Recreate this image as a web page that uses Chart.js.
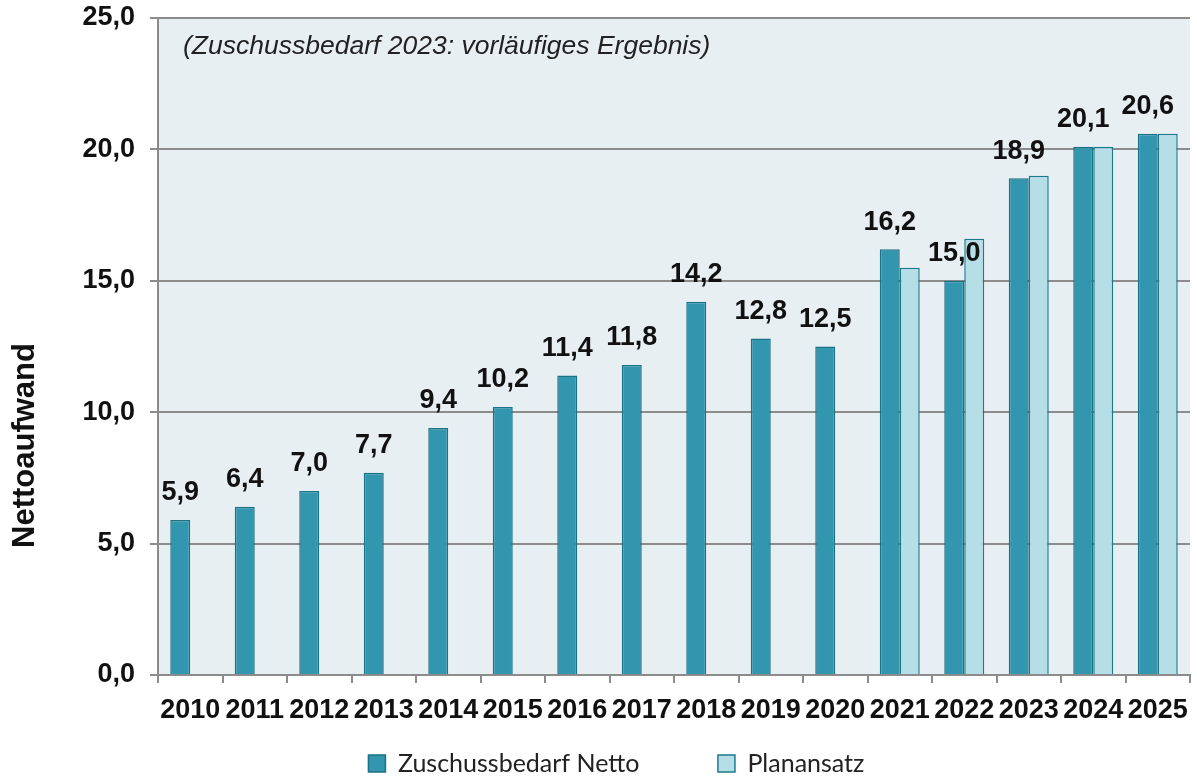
<!DOCTYPE html>
<html>
<head>
<meta charset="utf-8">
<script src="https://cdn.jsdelivr.net/npm/chart.js@4.4.1/dist/chart.umd.min.js"></script>
<style>
  html, body { margin: 0; padding: 0; background: #ffffff; }
  #wrap { width: 1197px; height: 778px; position: relative; }
</style>
</head>
<body>
<div id="wrap"><canvas id="c" width="1197" height="778"></canvas></div>
<script>
const years = ['2010','2011','2012','2013','2014','2015','2016','2017','2018','2019','2020','2021','2022','2023','2024','2025'];
const zuschussNetto = [5.9, 6.4, 7.0, 7.7, 9.4, 10.2, 11.4, 11.8, 14.2, 12.8, 12.5, 16.2, 15.0, 18.9, 20.1, 20.6];
const planansatz = [null, null, null, null, null, null, null, null, null, null, null, 15.5, 16.6, 19.0, 20.1, 20.6];
const seriesNames = ['Zuschussbedarf Netto', 'Planansatz'];
const yAxisTitle = 'Nettoaufwand';
const noteText = '(Zuschussbedarf 2023: vorläufiges Ergebnis)';
const yTickValues = [0, 5, 10, 15, 20, 25];

const fmt = v => v.toFixed(1).replace('.', ',');
const GRID = '#8c8c8c';
const NUMFONT = '"Liberation Sans", Arial, sans-serif';

const plotBg = {
  id: 'plotBg',
  beforeDraw(chart) {
    const {ctx, chartArea: a} = chart;
    ctx.save();
    ctx.fillStyle = '#e8eff3';
    ctx.fillRect(a.left, a.top, a.right - a.left, a.bottom - a.top);
    ctx.restore();
  }
};

const extras = {
  id: 'extras',
  afterDatasetsDraw(chart) {
    const {ctx, chartArea: a} = chart;
    const meta = chart.getDatasetMeta(0);
    ctx.save();
    ctx.fillStyle = '#111';
    ctx.font = 'bold 27px ' + NUMFONT;
    ctx.textAlign = 'center';
    ctx.textBaseline = 'middle';
    meta.data.forEach((bar, i) => {
      ctx.fillText(fmt(zuschussNetto[i]), bar.x, bar.y - 27);
    });
    // note
    ctx.font = 'italic 26.5px ' + NUMFONT;
    ctx.textAlign = 'left';
    ctx.fillStyle = '#222';
    ctx.fillText(noteText, a.left + 25, a.top + 29);
    // y title
    ctx.translate(25, (a.top + a.bottom) / 2 + 99);
    ctx.rotate(-Math.PI / 2);
    ctx.font = 'bold 31px ' + NUMFONT;
    ctx.textAlign = 'center';
    ctx.fillStyle = '#111';
    ctx.fillText(yAxisTitle, 0, 0);
    ctx.restore();
  }
};

new Chart(document.getElementById('c'), {
  type: 'bar',
  data: {
    labels: years,
    datasets: [
      {
        label: seriesNames[0] + '\u00A0'.repeat(11),
        data: zuschussNetto,
        backgroundColor: '#3296ae',
        borderColor: '#1b7185',
        borderWidth: 1.5,
        categoryPercentage: 0.62,
        barPercentage: 1.0
      },
      {
        label: seriesNames[1] + '\u00A0'.repeat(18),
        data: planansatz,
        backgroundColor: '#b6dee7',
        borderColor: '#1b7a8e',
        borderWidth: 1.5,
        categoryPercentage: 0.62,
        barPercentage: 1.0
      }
    ]
  },
  options: {
    responsive: false,
    animation: false,
    layout: { padding: { left: 0, right: 7, top: 18, bottom: -8 } },
    plugins: {
      legend: {
        position: 'bottom',
        fullSize: false,
        labels: {
          boxWidth: 17,
          boxHeight: 17,
          padding: 8,
          color: '#222',
          font: { family: 'Lato, "Open Sans", sans-serif', size: 25 }
        }
      },
      tooltip: { enabled: false }
    },
    scales: {
      x: {
        offset: true,
        grid: {
          display: true,
          offset: true,
          drawOnChartArea: false,
          drawTicks: true,
          tickLength: 8,
          color: GRID,
          lineWidth: 2
        },
        border: { display: true, color: GRID, width: 2 },
        ticks: {
          autoSkip: false,
          maxRotation: 0,
          minRotation: 0,
          padding: 11,
          color: '#111',
          font: { family: NUMFONT, size: 27, weight: 'bold' }
        },
        afterFit(scale) { scale.height = 68; scale.paddingLeft = 0; scale.paddingRight = 0; }
      },
      y: {
        min: 0,
        max: 25,
        afterBuildTicks(scale) { scale.ticks = yTickValues.map(v => ({ value: v })); },
        grid: {
          color: GRID,
          lineWidth: 2,
          drawTicks: true,
          tickLength: 8
        },
        border: { display: true, color: GRID, width: 2 },
        ticks: {
          padding: 15,
          color: '#111',
          font: { family: NUMFONT, size: 27, weight: 'bold' },
          callback: v => fmt(v)
        },
        afterFit(scale) { scale.width = 158; scale.paddingTop = 0; scale.paddingBottom = 0; }
      }
    }
  },
  plugins: [plotBg, extras]
});
</script>
</body>
</html>
